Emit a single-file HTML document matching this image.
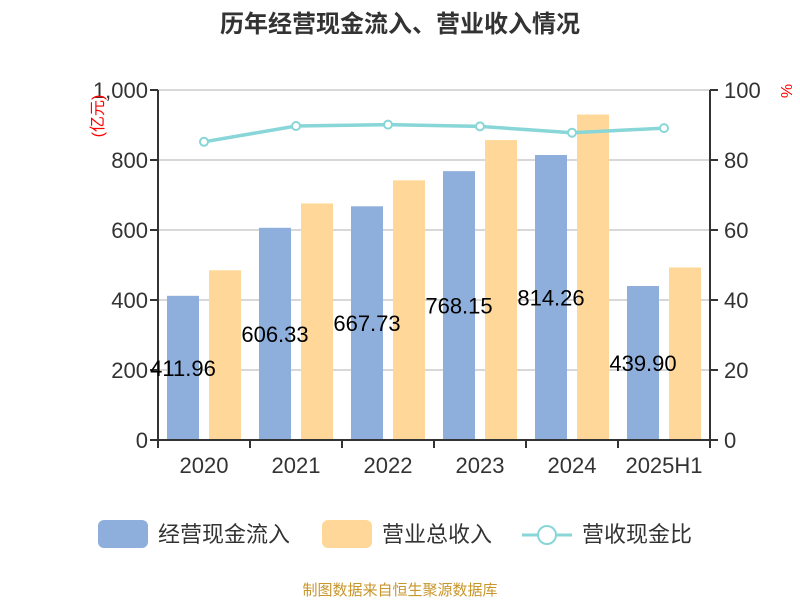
<!DOCTYPE html>
<html><head><meta charset="utf-8"><style>
body{margin:0;background:#fff;}
svg text{font-family:"Liberation Sans","Noto Sans CJK SC",sans-serif;}
</style></head><body>
<svg id="c" width="800" height="600" xmlns="http://www.w3.org/2000/svg">
<text x="400" y="32" text-anchor="middle" font-size="24" font-weight="bold" fill="#333">历年经营现金流入、营业收入情况</text>
<g id="grid"></g><g id="bars"></g><g id="line"></g><g id="axes"></g>
<text transform="translate(103,116) rotate(-90)" text-anchor="middle" font-size="16" fill="red">(亿元)</text>
<text transform="translate(781,91) rotate(90)" text-anchor="middle" font-size="16" fill="red">%</text>
<g>
<rect x="98" y="520" width="50" height="28" rx="6" fill="#8eaedb"/>
<text x="158" y="542" font-size="22" fill="#333">经营现金流入</text>
<rect x="322" y="520" width="50" height="28" rx="6" fill="#ffd899"/>
<text x="382" y="542" font-size="22" fill="#333">营业总收入</text>
<line x1="522" y1="535" x2="572" y2="535" stroke="#88d6d8" stroke-width="3"/>
<circle cx="547" cy="535" r="9" fill="#fff" stroke="#88d6d8" stroke-width="2"/>
<text x="582" y="542" font-size="22" fill="#333">营收现金比</text>
</g>
<text x="400" y="595" text-anchor="middle" font-size="15" fill="#c8962a">制图数据来自恒生聚源数据库</text>
</svg>
<script>
const categories=["2020","2021","2022","2023","2024","2025H1"];
const cashInflow=[411.96,606.33,667.73,768.15,814.26,439.90];
const revenue=[485,676,742,857,930,493];
const ratio=[85.2,89.7,90.1,89.6,87.8,89.1];
const leftTicks=[0,200,400,600,800,1000];
const leftTickLabels=["0","200","400","600","800","1,000"];
const rightTicks=[0,20,40,60,80,100];
const NS="http://www.w3.org/2000/svg";
const X0=158,X1=710,Y0=440,Y1=90;
const bw=(X1-X0)/categories.length;
const y=v=>Y0-(v/1000)*(Y0-Y1);
const y2=v=>Y0-(v/100)*(Y0-Y1);
function mk(p,t,a){const e=document.createElementNS(NS,t);for(const k in a)e.setAttribute(k,a[k]);document.getElementById(p).appendChild(e);return e;}
leftTicks.forEach((t,i)=>{
 const g=mk("grid","line",{x1:X0,x2:X1,y1:y(t),y2:y(t),stroke:"#ccc","stroke-width":1.5});
 
 
 const tl=mk("axes","text",{x:X0-10,y:y(t)+8,"text-anchor":"end","font-size":22,fill:"#333"});tl.textContent=leftTickLabels[i];
 
 
 mk("axes","line",{x1:X0-8,x2:X0,y1:y(t),y2:y(t),stroke:"#333","stroke-width":2});
});
rightTicks.forEach(t=>{
 const tl=mk("axes","text",{x:X1+14,y:y2(t)+8,"font-size":22,fill:"#333"});tl.textContent=t;
 
 
 mk("axes","line",{x1:X1,x2:X1+8,y1:y2(t),y2:y2(t),stroke:"#333","stroke-width":2});
});
mk("axes","line",{x1:X0,x2:X0,y1:Y1,y2:Y0,stroke:"#333","stroke-width":2});
mk("axes","line",{x1:X1,x2:X1,y1:Y1,y2:Y0,stroke:"#333","stroke-width":2});
mk("axes","line",{x1:X0,x2:X1,y1:Y0,y2:Y0,stroke:"#333","stroke-width":2});
categories.forEach((c,i)=>{
 const x=X0+i*bw;
 mk("axes","line",{x1:x,x2:x,y1:Y0,y2:Y0+8,stroke:"#333","stroke-width":2});
 if(i==categories.length-1)mk("axes","line",{x1:X1,x2:X1,y1:Y0,y2:Y0+8,stroke:"#333","stroke-width":2});
 const tl=mk("axes","text",{x:x+bw/2,y:Y0+33,"text-anchor":"middle","font-size":22,fill:"#333"});tl.textContent=c;
 
 
 const b=mk("bars","rect",{x:x+9,y:y(cashInflow[i]),width:32,height:Y0-y(cashInflow[i]),fill:"#8eaedb"});
 
 
 const r=mk("bars","rect",{x:x+51,y:y(revenue[i]),width:32,height:Y0-y(revenue[i]),fill:"#ffd899"});
 
 
 const v=mk("axes","text",{x:x+25,y:(y(cashInflow[i])+Y0)/2+8,"text-anchor":"middle","font-size":22,fill:"#000"});v.textContent=cashInflow[i].toFixed(2);
 
 
});
const pts=ratio.map((v,i)=>[X0+i*bw+bw/2,y2(v)]);
const pl=mk("line","polyline",{points:pts.map(p=>p.join(",")).join(" "),fill:"none",stroke:"#88d6d8","stroke-width":3.5});


pts.forEach((p,i)=>{
 const c=mk("line","circle",{cx:p[0],cy:p[1],r:4,fill:"#fff",stroke:"#88d6d8","stroke-width":2});
 
 
});
</script>
</body></html>
